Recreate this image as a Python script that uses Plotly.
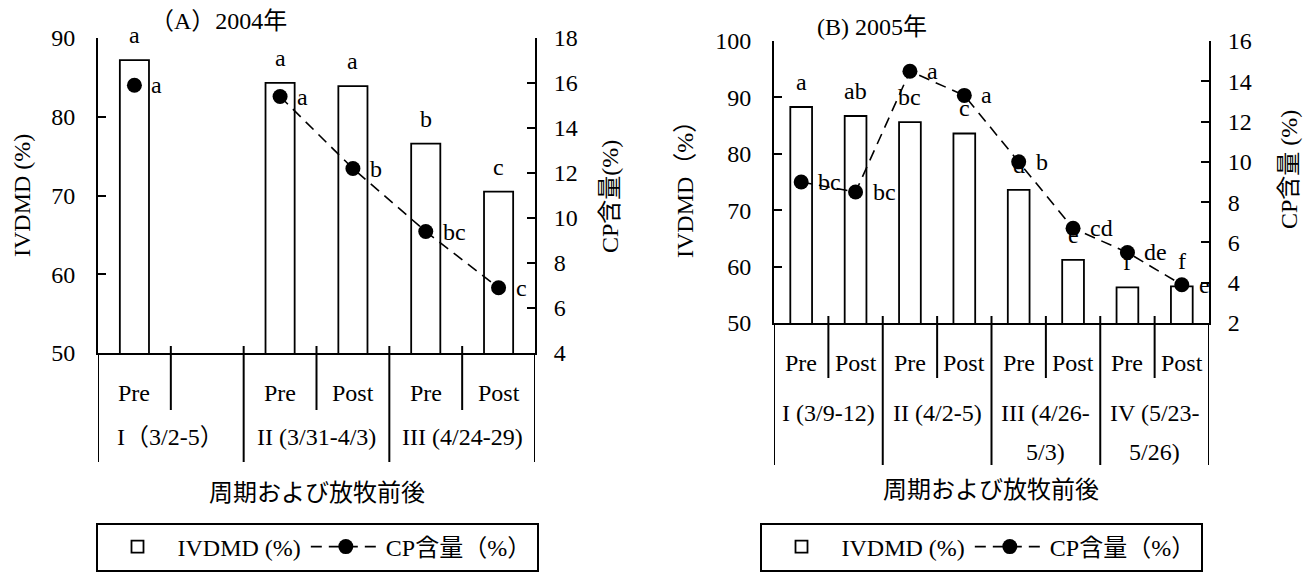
import plotly.graph_objects as go

# ---------------- data ----------------
# Panel A (2004)
A_title = "（A）2004年"
A_pp = ["Pre", "", "Pre", "Post", "Pre", "Post"]
A_groups = ["I（3/2-5）", "II (3/31-4/3)", "III (4/24-29)"]
A_group_span = [2, 2, 2]
A_ivdmd = [87.2, None, 84.3, 83.9, 76.6, 70.5]
A_cp = [15.9, None, 15.4, 12.2, 9.4, 6.9]
A_ivdmd_sig = ["a", "", "a", "a", "b", "c"]
A_cp_sig = ["a", "", "a", "b", "bc", "c"]

# Panel B (2005)
B_title = "(B) 2005年"
B_pp = ["Pre", "Post", "Pre", "Post", "Pre", "Post", "Pre", "Post"]
B_groups_l1 = ["I (3/9-12)", "II (4/2-5)", "III (4/26-", "IV (5/23-"]
B_groups_l2 = ["", "", "5/3)", "5/26)"]
B_group_span = [2, 2, 2, 2]
B_ivdmd = [88.3, 86.7, 85.6, 83.6, 73.6, 61.2, 56.3, 56.5]
B_cp = [9.0, 8.5, 14.5, 13.3, 10.0, 6.7, 5.5, 3.9]
B_ivdmd_sig = ["a", "ab", "bc", "c", "d", "e", "f", "f"]
B_cp_sig = ["bc", "bc", "a", "a", "b", "cd", "de", "e"]

x_title = "周期および放牧前後"
ivdmd_name = "IVDMD (%)"
cp_name = "CP含量（%）"

# ---------------- styling ----------------
W, H = 1312, 574
FONT = "Liberation Serif, Noto Sans CJK JP, serif"
FONT_NUM = "Liberation Serif"
FS = 24
BLACK = "black"


def py(px):
    """pixel row (from top) -> paper y"""
    return (H - px) / H


def pxx(px):
    return px / W


fig = go.Figure()

panels = [
    dict(x="x", y="y", y2="y2", pp=A_pp, ivdmd=A_ivdmd, cp=A_cp,
         isig=A_ivdmd_sig, csig=A_cp_sig, legend="legend"),
    dict(x="x2", y="y3", y2="y4", pp=B_pp, ivdmd=B_ivdmd, cp=B_cp,
         isig=B_ivdmd_sig, csig=B_cp_sig, legend="legend2"),
]

for p in panels:
    idx = list(range(len(p["pp"])))
    fig.add_trace(go.Bar(
        x=idx, y=p["ivdmd"], width=0.4, name=ivdmd_name,
        marker=dict(color="white", line=dict(color=BLACK, width=1.8)),
        xaxis=p["x"], yaxis=p["y"], legend=p["legend"], showlegend=True,
    ))
    fig.add_trace(go.Scatter(
        x=idx, y=p["cp"], mode="lines+markers", name=cp_name,
        line=dict(color=BLACK, width=1.6, dash="11px,7px"),
        marker=dict(color=BLACK, size=15),
        connectgaps=False,
        xaxis=p["x"], yaxis=p["y2"], legend=p["legend"], showlegend=True,
    ))

annotations = []
shapes = []

# significance letters
for p in panels:
    for i, (v, s) in enumerate(zip(p["ivdmd"], p["isig"])):
        if v is not None and s:
            annotations.append(dict(x=i, y=v, xref=p["x"], yref=p["y"], text=s,
                                    showarrow=False, yanchor="bottom", yshift=10,
                                    font=dict(size=FS, family=FONT, color=BLACK)))
    for i, (v, s) in enumerate(zip(p["cp"], p["csig"])):
        if v is not None and s:
            annotations.append(dict(x=i, y=v, xref=p["x"], yref=p["y2"], text=s,
                                    showarrow=False, xanchor="left", xshift=15,
                                    yanchor="middle",
                                    font=dict(size=FS, family=FONT, color=BLACK)))

# category labels & separators -- panel A
A_axis_y, A_pp_y, A_grp_y = 353, 393, 437
A_short_end, A_long_end = 410, 462
for i, t in enumerate(A_pp):
    if t:
        annotations.append(dict(x=i, y=py(A_pp_y), xref="x", yref="paper", text=t,
                                showarrow=False, yanchor="middle",
                                font=dict(size=FS, family=FONT, color=BLACK)))
start = 0
bounds_long = [-0.5]
for g, span in zip(A_groups, A_group_span):
    annotations.append(dict(x=start + (span - 1) / 2, y=py(A_grp_y), xref="x", yref="paper",
                            text=g, showarrow=False, yanchor="middle",
                            font=dict(size=FS, family=FONT, color=BLACK)))
    for k in range(1, span):
        xb = start + k - 0.5
        shapes.append(dict(type="line", xref="x", yref="paper", x0=xb, x1=xb,
                           y0=py(A_axis_y - 7), y1=py(A_short_end),
                           line=dict(color=BLACK, width=2)))
    start += span
    bounds_long.append(start - 0.5)
for j, xb in enumerate(bounds_long):
    top = A_axis_y if j in (0, len(bounds_long) - 1) else A_axis_y - 7
    shapes.append(dict(type="line", xref="x", yref="paper", x0=xb, x1=xb,
                       y0=py(top), y1=py(A_long_end), line=dict(color=BLACK, width=2)))

# category labels & separators -- panel B
B_axis_y, B_pp_y, B_grp_y1, B_grp_y2 = 323, 363, 413, 452
B_short_end, B_long_end = 378, 465
for i, t in enumerate(B_pp):
    annotations.append(dict(x=i, y=py(B_pp_y), xref="x2", yref="paper", text=t,
                            showarrow=False, yanchor="middle",
                            font=dict(size=FS, family=FONT, color=BLACK)))
start = 0
bounds_long = [-0.5]
for g1, g2, span in zip(B_groups_l1, B_groups_l2, B_group_span):
    c = start + (span - 1) / 2
    annotations.append(dict(x=c, y=py(B_grp_y1), xref="x2", yref="paper", text=g1,
                            showarrow=False, yanchor="middle",
                            font=dict(size=FS, family=FONT, color=BLACK)))
    if g2:
        annotations.append(dict(x=c, y=py(B_grp_y2), xref="x2", yref="paper", text=g2,
                                showarrow=False, yanchor="middle",
                                font=dict(size=FS, family=FONT, color=BLACK)))
    for k in range(1, span):
        xb = start + k - 0.5
        shapes.append(dict(type="line", xref="x2", yref="paper", x0=xb, x1=xb,
                           y0=py(B_axis_y - 7), y1=py(B_short_end),
                           line=dict(color=BLACK, width=2)))
    start += span
    bounds_long.append(start - 0.5)
for j, xb in enumerate(bounds_long):
    top = B_axis_y if j in (0, len(bounds_long) - 1) else B_axis_y - 7
    shapes.append(dict(type="line", xref="x2", yref="paper", x0=xb, x1=xb,
                       y0=py(top), y1=py(B_long_end), line=dict(color=BLACK, width=2)))

# titles / axis titles
def txt(x, y, t, angle=0, size=FS):
    annotations.append(dict(x=pxx(x), y=py(y), xref="paper", yref="paper", text=t,
                            showarrow=False, textangle=angle, xanchor="center",
                            yanchor="middle", font=dict(size=size, family=FONT, color=BLACK)))

txt(218, 21, A_title)
txt(872, 27, B_title)
txt(22, 196, "IVDMD (%)", -90)
txt(610, 197, "CP含量(%)", -90)
txt(685, 184, "IVDMD（%）", -90)
txt(1289, 170, "CP含量 (%)", -90)
txt(317, 493, x_title)
txt(991, 490, x_title)

yax_common = dict(ticks="inside", ticklen=8, tickwidth=2, tickcolor=BLACK,
                  showline=True, linecolor=BLACK, linewidth=2, showgrid=False,
                  zeroline=False, tickfont=dict(size=FS, family=FONT_NUM, color=BLACK),
                  fixedrange=True, automargin=False)
xax_common = dict(showline=True, linecolor=BLACK, linewidth=2, showgrid=False,
                  zeroline=False, showticklabels=False, ticks="", fixedrange=True,
                  automargin=False)

legend_common = dict(orientation="h", xanchor="center", yanchor="middle",
                     bordercolor=BLACK, borderwidth=2, bgcolor="white",
                     font=dict(size=FS, family=FONT, color=BLACK), itemwidth=70,
                     tracegroupgap=0)

fig.update_layout(
    width=W, height=H,
    margin=dict(l=0, r=0, t=0, b=0, autoexpand=False),
    paper_bgcolor="white", plot_bgcolor="white",
    font=dict(family=FONT, size=FS, color=BLACK),
    barmode="overlay",
    xaxis=dict(domain=[pxx(98), pxx(535)], range=[-0.5, 5.5], anchor="y", **xax_common),
    yaxis=dict(domain=[py(353), py(38)], range=[50, 90], dtick=10, anchor="x",
               ticklabelstandoff=16, **yax_common),
    yaxis2=dict(range=[4, 18], dtick=2, overlaying="y", side="right", anchor="x",
                ticklabelstandoff=12, **yax_common),
    xaxis2=dict(domain=[pxx(774), pxx(1209)], range=[-0.5, 7.5], anchor="y3", **xax_common),
    yaxis3=dict(domain=[py(323), py(41)], range=[50, 100], dtick=10, anchor="x2",
                ticklabelstandoff=16, **yax_common),
    yaxis4=dict(range=[2, 16], dtick=2, overlaying="y3", side="right", anchor="x2",
                ticklabelstandoff=12, **yax_common),
    legend=dict(x=pxx(317), y=py(547), **legend_common),
    legend2=dict(x=pxx(981), y=py(547), **legend_common),
    annotations=annotations,
    shapes=shapes,
    showlegend=True,
)

fig.write_html(
    "out.html",
    config={"displayModeBar": False},
    post_script="document.body.style.margin='0';document.body.style.overflow='hidden';",
)
